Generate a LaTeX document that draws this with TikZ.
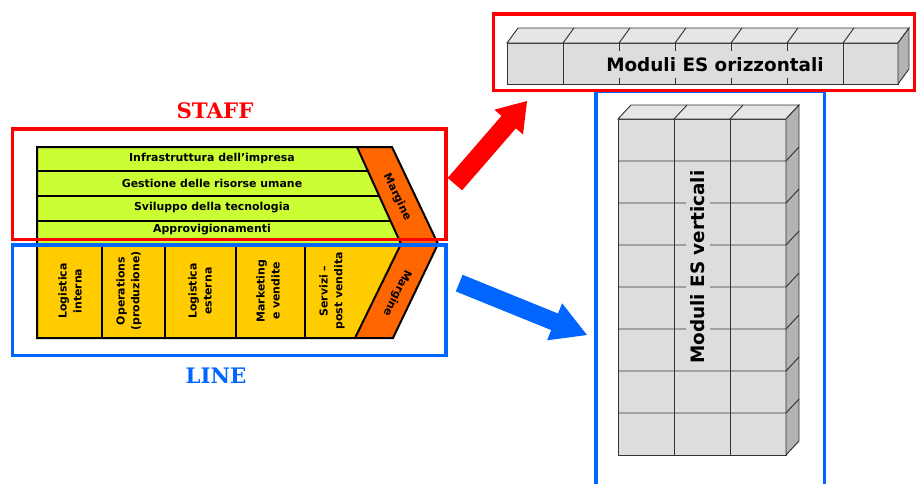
\documentclass[tikz,border=0pt]{standalone}
\usepackage{fontspec}
\setmainfont{DejaVu Sans}
\newfontfamily\stafffont{DejaVu Serif}
\definecolor{lime}{HTML}{CCFF33}
\definecolor{vorange}{HTML}{FF6600}
\definecolor{vyellow}{HTML}{FFCC00}
\definecolor{sred}{HTML}{FF0000}
\definecolor{lblue}{HTML}{0066FF}
\definecolor{frontgray}{HTML}{DDDDDD}
\definecolor{topgray}{HTML}{E6E6E6}
\definecolor{sidegray}{HTML}{B3B3B3}
\definecolor{gridgray}{HTML}{333333}
\begin{document}
\begin{tikzpicture}[x=0.75pt,y=-0.75pt,
  vcline/.style={black,line width=1.5pt,line join=miter},
  frame/.style={line width=2.3pt},
  gridl/.style={gridgray,line width=0.7pt},
  suptext/.style={font=\fontsize{8.2pt}{10pt}\selectfont\bfseries,inner sep=0pt},
  primtext/.style={font=\fontsize{8.2pt}{11.2pt}\selectfont\bfseries,rotate=90,align=center,inner sep=0pt},
  bigtext/.style={font=\fontsize{13.8pt}{16pt}\selectfont\bfseries},
  grouptext/.style={font=\fontsize{16pt}{18pt}\selectfont\stafffont\bfseries}]
\useasboundingbox (0,0) rectangle (916,483);

% ---------- value chain ----------
\fill[lime] (37,147) -- (357,147) -- (401,244) -- (37,244) -- cycle;
\fill[vyellow] (37,244) -- (401,244) -- (355,338) -- (37,338) -- cycle;
\fill[vorange] (357,147) -- (392,147) -- (438,244) -- (393,338) -- (355,338) -- (401,244) -- cycle;
\draw[vcline] (37,171) -- (367.9,171);
\draw[vcline] (37,196) -- (379.2,196);
\draw[vcline] (37,221) -- (390.6,221);
\draw[vcline] (37,244) -- (401,244);
\draw[vcline] (357,147) -- (401,244) -- (355,338);
\foreach \xx in {102,165,236,305} \draw[vcline] (\xx,244) -- (\xx,338);
\draw[vcline] (37,147) -- (392,147) -- (438,244) -- (393,338) -- (37,338) -- cycle;

\node[suptext] (s1) at (212,158.5) {Infrastruttura dell’impresa};
\node[suptext] (s2) at (212,183) {Gestione delle risorse umane};
\node[suptext] (s3) at (212,208) {Sviluppo della tecnologia};
\node[suptext] (s4) at (212,230) {Approvigionamenti};
\node[suptext,rotate=-64] (m1) at (397,197) {Margine};
\node[suptext,rotate=244] (m2) at (397,293) {Margine};

\node[primtext] (p1) at (70,291) {Logistica\\interna};
\node[primtext] (p2) at (129,291) {Operations\\(produzione)};
\node[primtext] (p3) at (200,291) {Logistica\\esterna};
\node[primtext] (p4) at (268,291) {Marketing\\e vendite};
\node[primtext] (p5) at (332,291) {Servizi –\\post vendita};

% ---------- group frames ----------
\draw[sred,frame] (12.5,129) rectangle (446,239.5);
\draw[lblue,frame] (12.5,245) rectangle (446,355.5);
\node[grouptext,text=sred] (staff) at (215,111) {STAFF};
\node[grouptext,text=lblue] (line) at (216,376) {LINE};

% ---------- vertical modules ----------
\draw[lblue,frame] (596,490) -- (596,91) -- (824.5,91) -- (824.5,490);
\filldraw[fill=frontgray,draw=gridgray,line width=0.7pt] (618,119) rectangle (786,455);
\filldraw[fill=topgray,draw=gridgray,line width=0.7pt] (618,119) -- (631,105) -- (799,105) -- (786,119) -- cycle;
\filldraw[fill=sidegray,draw=gridgray,line width=0.7pt] (786,119) -- (799,105) -- (799,441) -- (786,455) -- cycle;
\foreach \xx in {674,730} {\draw[gridl] (\xx,119) -- (\xx,455); \draw[gridl] (\xx,119) -- ++(13,-14);}
\foreach \k in {1,...,7} {\draw[gridl] (618,{119+42*\k}) -- (786,{119+42*\k}) -- ++(13,-14);}
\node[bigtext,rotate=90,fill=frontgray,inner xsep=1pt,inner ysep=4pt] (vert) at (698,267) {Moduli ES verticali};

% ---------- horizontal modules ----------
\filldraw[fill=frontgray,draw=gridgray,line width=0.7pt] (507,43) rectangle (898,84);
\filldraw[fill=topgray,draw=gridgray,line width=0.7pt] (507,43) -- (518,28) -- (909,28) -- (898,43) -- cycle;
\filldraw[fill=sidegray,draw=gridgray,line width=0.7pt] (898,43) -- (909,28) -- (909,69) -- (898,84) -- cycle;
\foreach \k in {1,...,6} {\draw[gridl] ({507+56*\k},43) -- ++(0,41); \draw[gridl] ({507+56*\k},43) -- ++(11,-15);}
\node[bigtext,fill=frontgray,inner xsep=2pt,inner ysep=5pt] (horiz) at (715,64.5) {Moduli ES orizzontali};
\draw[sred,frame] (493.5,14) rectangle (914.5,90.5);

% ---------- block arrows ----------
\fill[sred] (447.7,177.9) -- (501.5,115.9) -- (494.4,109.7) -- (527,101) -- (523,134.5) -- (515.9,128.3) -- (462.1,190.3) -- cycle;
\fill[lblue] (462.6,274.8) -- (558.0,313.5) -- (562.1,303.3) -- (587,335) -- (547.1,340.3) -- (551.2,330.1) -- (455.8,291.4) -- cycle;
\end{tikzpicture}
\end{document}
